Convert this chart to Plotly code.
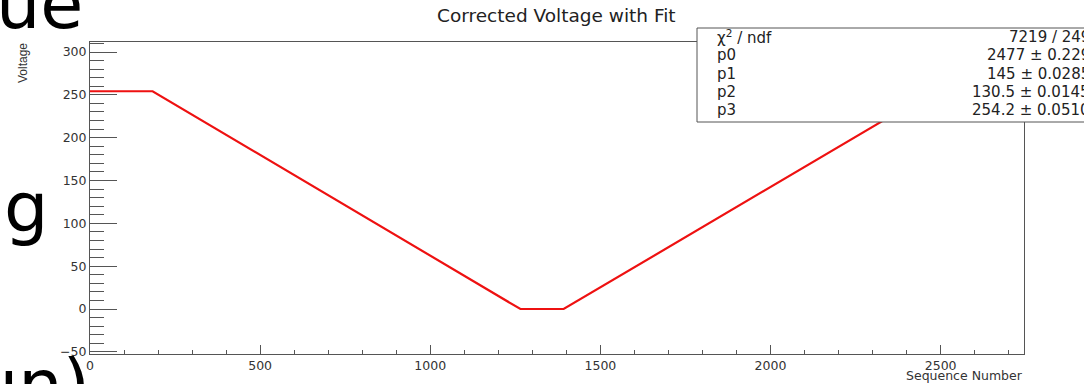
import plotly.graph_objects as go

# Piecewise fit curve vertices (Sequence Number, Voltage)
seq_x = [0, 184, 1265, 1392, 2477, 2745]
volt_y = [254.2, 254.2, 0.0, 0.0, 254.2, 254.2]

title = "Corrected Voltage with Fit"
x_title = "Sequence Number"
y_title = "Voltage"

stat_names = ["χ<sup>2</sup> / ndf", "p0", "p1", "p2", "p3"]
stat_values = ["7219 / 249", "2477 ± 0.229", "145 ± 0.0285", "130.5 ± 0.0145", "254.2 ± 0.0510"]

bg_words = ["ue", "g", "un)"]

W, H = 1084, 384
L, R, T, B = 90, 60, 42, 30
pw, ph = W - L - R, H - T - B

def px(x):
    return (x - L) / pw

def py(y):
    return 1 - (y - T) / ph

fig = go.Figure()
fig.add_trace(go.Scatter(x=seq_x, y=volt_y, mode="lines",
                         line=dict(color="#ee1111", width=2.2), showlegend=False))

font = "Liberation Sans, Arial, sans-serif"
wide = "DejaVu Sans, Verdana, sans-serif"
axcol = "#555555"
fig.update_layout(
    width=W, height=H, margin=dict(l=L, r=R, t=T, b=B),
    paper_bgcolor="white", plot_bgcolor="white",
    font=dict(family=wide, color="#333333", size=12),
    xaxis=dict(range=[0, 2745], showgrid=False, zeroline=False, showline=True, mirror=True,
               linecolor=axcol, linewidth=1, ticks="inside", ticklen=9, tickcolor=axcol,
               tickvals=[0, 500, 1000, 1500, 2000, 2500],
               minor=dict(ticks="inside", ticklen=4, dtick=100, tickcolor=axcol),
               tickfont=dict(size=12.5, color="#333333", family=wide)),
    yaxis=dict(range=[-52.5, 311.7], showgrid=False, zeroline=False, showline=True, mirror=True,
               linecolor=axcol, linewidth=1, ticks="inside", ticklen=27, tickcolor=axcol,
               tickvals=[-50, 0, 50, 100, 150, 200, 250, 300],
               minor=dict(ticks="inside", ticklen=14, dtick=10, tickcolor=axcol),
               tickfont=dict(size=12.5, color="#333333", family=wide)),
)

ann = []
ann.append(dict(text=title, x=px(556), y=py(15), xref="paper", yref="paper",
                showarrow=False, font=dict(size=18.5, color="#222", family=wide),
                xanchor="center", yanchor="middle"))
ann.append(dict(text=x_title, x=px(1025), y=py(375), xref="paper", yref="paper",
                showarrow=False, font=dict(size=12.5, color="#333", family=wide),
                xanchor="right", yanchor="middle"))
ann.append(dict(text=y_title, x=px(23), y=py(63), xref="paper", yref="paper", textangle=-90,
                showarrow=False, font=dict(size=12, color="#333", family=font),
                xanchor="center", yanchor="middle"))

# stats box
fig.add_shape(type="rect", xref="paper", yref="paper", x0=px(697), x1=px(1100), y0=py(122), y1=py(28),
              fillcolor="white", line=dict(color="#555", width=1), layer="above")
for i, (n, v) in enumerate(zip(stat_names, stat_values)):
    yy = py(37 + i * 18.3)
    ann.append(dict(text=n, x=px(715), y=yy, xref="paper", yref="paper", showarrow=False,
                    font=dict(size=15, color="#222", family=wide), xanchor="left", yanchor="middle"))
    ann.append(dict(text=v, x=px(1092), y=yy, xref="paper", yref="paper", showarrow=False,
                    font=dict(size=15, color="#222", family=wide), xanchor="right", yanchor="middle"))

# background slide text fragments
pos = [(-6, 4), (2, 208), (-28, 385)]
for w, (xx, yy) in zip(bg_words, pos):
    ann.append(dict(text=w, x=px(xx), y=py(yy), xref="paper", yref="paper", showarrow=False,
                    font=dict(size=70, color="black", family="DejaVu Sans, Verdana, sans-serif"),
                    xanchor="left", yanchor="middle"))

fig.update_layout(annotations=ann)
fig.write_html("out.html", config={"displayModeBar": False},
               post_script="document.body.style.margin='0';document.body.style.overflow='hidden';")
